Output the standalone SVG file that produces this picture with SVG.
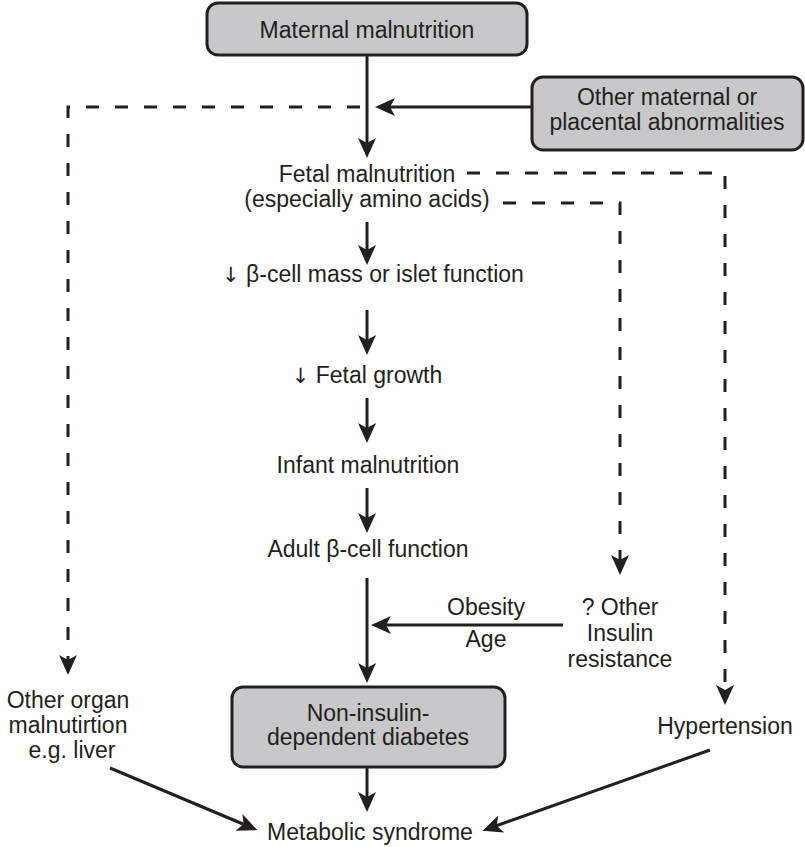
<svg xmlns="http://www.w3.org/2000/svg" width="805" height="847" viewBox="0 0 805 847">
  <defs>
    <style>
      text { font-family: "Liberation Sans", Arial, sans-serif; font-size: 23px; fill: #231f20; text-anchor: middle; }
      .sym { font-family: "DejaVu Sans", sans-serif; font-size: 21px; fill: #231f20; }
      .box { fill: #c8c8ca; stroke: #231f20; stroke-width: 3; }
      .solid { fill: none; stroke: #231f20; stroke-width: 3; marker-end: url(#head); }
      .dashArrow { fill: none; stroke: #231f20; stroke-width: 3; stroke-dasharray: 13 16; marker-end: url(#head); }
    </style>
    <!-- filled arrowhead with a notched back; line ends 8px short of the tip -->
    <marker id="head" markerUnits="userSpaceOnUse" viewBox="0 0 20 18" markerWidth="20" markerHeight="18" refX="12" refY="9" orient="auto">
      <path d="M0,0 L20,9 L0,18 L5,9 z" fill="#231f20"/>
    </marker>
  </defs>
  <rect width="805" height="847" fill="#ffffff"/>

  <g id="connectors">
    <!-- main spine -->
    <line class="solid" x1="367" y1="55" x2="367" y2="150"/>
    <line class="solid" x1="367" y1="222" x2="367" y2="257"/>
    <line class="solid" x1="367" y1="310" x2="367" y2="347"/>
    <line class="solid" x1="367" y1="398" x2="367" y2="435"/>
    <line class="solid" x1="367" y1="488" x2="367" y2="525"/>
    <line class="solid" x1="367" y1="578" x2="367" y2="675"/>
    <line class="solid" x1="367" y1="767" x2="367" y2="804"/>
    <!-- side inputs -->
    <line class="solid" x1="532" y1="107" x2="383" y2="107"/>
    <line class="solid" x1="563" y1="625" x2="379" y2="625"/>
    <!-- into metabolic syndrome -->
    <line class="solid" x1="110" y1="768" x2="250" y2="827"/>
    <line class="solid" x1="710" y1="750" x2="490" y2="828"/>
    <!-- dashed branches -->
    <path class="dashArrow" d="M360,107 H68 V667"/>
    <path class="dashArrow" d="M467,173 H725 V697"/>
    <path class="dashArrow" d="M503,203 H620 V567"/>
  </g>

  <g id="maternal-malnutrition">
    <rect class="box" x="207" y="3" width="320" height="52" rx="11"/>
    <text x="367" y="38">Maternal malnutrition</text>
  </g>

  <g id="other-maternal">
    <rect class="box" x="532" y="77" width="271" height="73" rx="11"/>
    <text x="667" y="105">Other maternal or</text>
    <text x="667" y="130">placental abnormalities</text>
  </g>

  <g id="fetal-malnutrition">
    <text x="367" y="182">Fetal malnutrition</text>
    <text x="367" y="207">(especially amino acids)</text>
  </g>

  <g id="beta-cell-mass">
    <text x="373" y="282"><tspan class="sym">↓</tspan> β-cell mass or islet function</text>
  </g>

  <g id="fetal-growth">
    <text x="367" y="383"><tspan class="sym">↓</tspan> Fetal growth</text>
  </g>

  <g id="infant-malnutrition">
    <text x="368" y="473">Infant malnutrition</text>
  </g>

  <g id="adult-beta-cell">
    <text x="368" y="557">Adult β-cell function</text>
  </g>

  <g id="obesity-age">
    <text x="486" y="615">Obesity</text>
    <text x="486" y="647">Age</text>
  </g>

  <g id="insulin-resistance">
    <text x="620" y="615">? Other</text>
    <text x="620" y="641">Insulin</text>
    <text x="620" y="667">resistance</text>
  </g>

  <g id="other-organ">
    <text x="68" y="708">Other organ</text>
    <text x="68" y="733">malnutirtion</text>
    <text x="72" y="758">e.g. liver</text>
  </g>

  <g id="hypertension">
    <text x="725" y="734">Hypertension</text>
  </g>

  <g id="niddm">
    <rect class="box" x="232" y="687" width="273" height="80" rx="11"/>
    <text x="368" y="721">Non-insulin-</text>
    <text x="368" y="745">dependent diabetes</text>
  </g>

  <g id="metabolic-syndrome">
    <text x="370" y="840">Metabolic syndrome</text>
  </g>
</svg>
